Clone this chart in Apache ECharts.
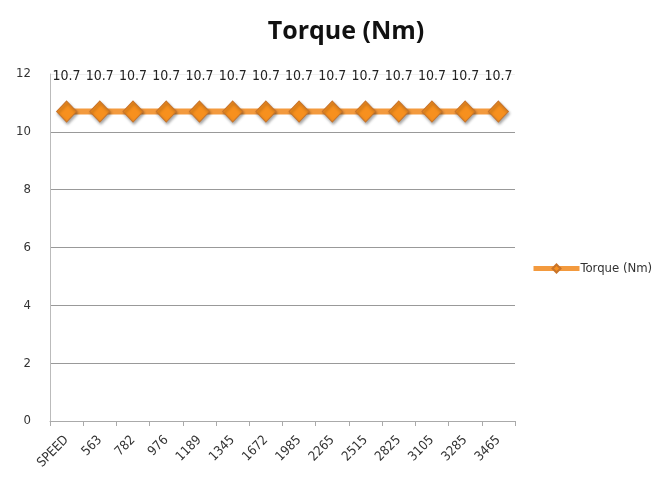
<!DOCTYPE html>
<html><head><meta charset="utf-8">
<script src="https://cdn.jsdelivr.net/npm/echarts@6/dist/echarts.min.js"></script>
<style>html,body{margin:0;padding:0;background:#fff}#c{width:668px;height:477px}</style>
</head><body><div id="c"></div>
<script>
var categories = ['SPEED','563','782','976','1189','1345','1672','1985','2265','2515','2825','3105','3285','3465'];
var torque = [10.7,10.7,10.7,10.7,10.7,10.7,10.7,10.7,10.7,10.7,10.7,10.7,10.7,10.7];
var yTicks = [0,2,4,6,8,10,12];
var seriesName = 'Torque (Nm)';

var narrow = "'Liberation Sans Narrow','DejaVu Sans Condensed','Open Sans'";
var chart = echarts.init(document.getElementById('c'));
chart.setOption({
  backgroundColor:'#fff',
  animation:false,
  title:{text:'Torque (Nm)',left:341,top:14,textAlign:'center',
    textStyle:{fontFamily:'Open Sans',fontWeight:'bold',fontSize:25,color:'#111'}},
  legend:{left:526,top:257,itemWidth:46,itemHeight:10,itemGap:2,
    data:[seriesName],
    lineStyle:{width:5,color:'#f39a3e'},
    textStyle:{fontFamily:narrow,fontSize:13,color:'#333',padding:[0,0,0,-4]}},
  grid:{left:50,right:153,top:74,bottom:56,containLabel:false},
  xAxis:{type:'category',data:categories,boundaryGap:true,
    axisLine:{lineStyle:{color:'#aaa',width:1}},
    axisTick:{show:true,length:5,lineStyle:{color:'#aaa'}},
    axisLabel:{rotate:45,fontFamily:narrow,fontSize:13,color:'#333',margin:17}},
  yAxis:{type:'value',min:yTicks[0],max:yTicks[yTicks.length-1],interval:2,
    axisLine:{show:true,lineStyle:{color:'#bbb'}},
    axisTick:{show:false},
    splitLine:{lineStyle:{color:['#999','#999','#999','#999','#999','#999','#eeeeee'],width:1}},
    axisLabel:{fontFamily:narrow,fontSize:13,color:'#333',margin:19}},
  series:[{name:seriesName,type:'line',data:torque,
    symbol:'diamond',symbolSize:[20,21],
    lineStyle:{color:'#f39a3e',width:6},
    itemStyle:{color:'#f7901e',borderColor:'#c8742a',borderWidth:1,
      shadowColor:'rgba(0,0,0,0.35)',shadowBlur:3,shadowOffsetX:1,shadowOffsetY:2},
    label:{show:true,position:'top',distance:17,formatter:function(p){return p.value.toFixed(1);},
      fontFamily:narrow,fontSize:14,color:'#222'}}]
});
</script></body></html>
